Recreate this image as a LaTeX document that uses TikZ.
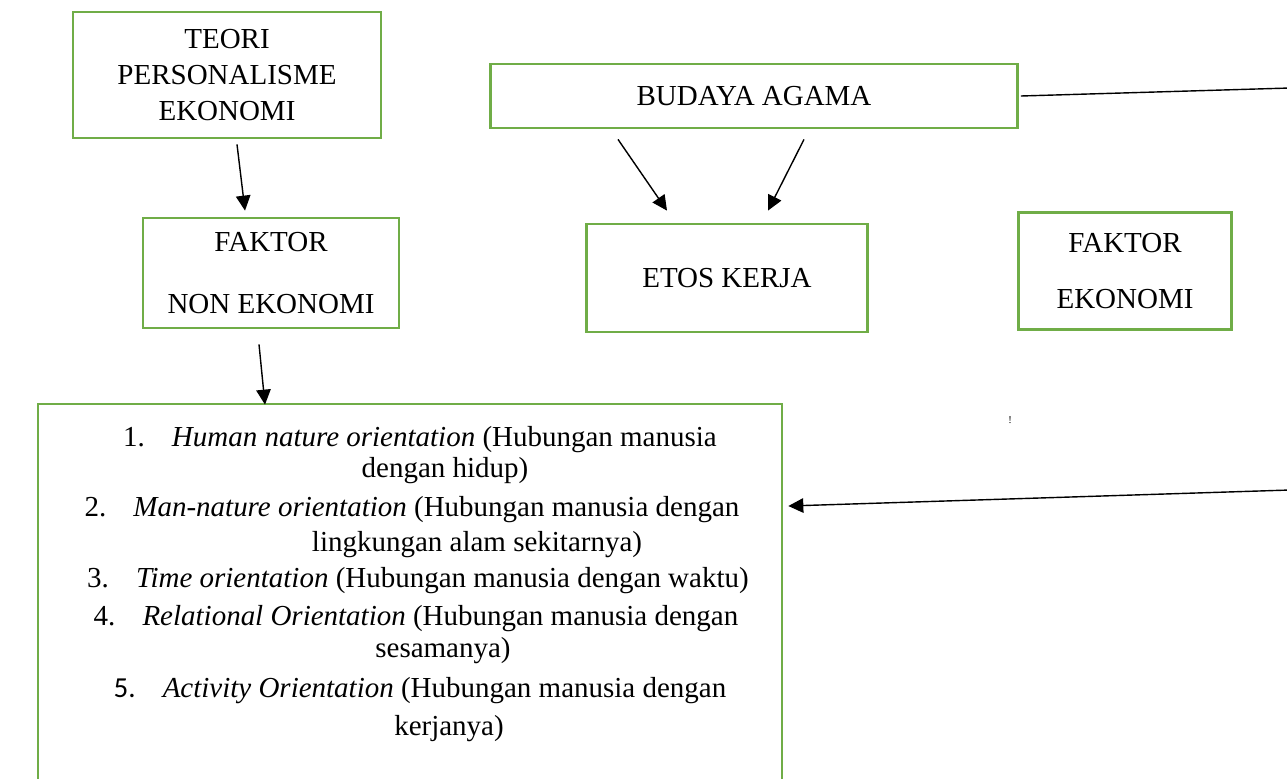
\documentclass[tikz,border=0pt]{standalone}
\usepackage{fontspec}
\setmainfont{Liberation Serif}
\newfontfamily\calibrifont{Carlito}
\usetikzlibrary{arrows.meta}
\definecolor{boxgreen}{HTML}{70AD47}

\begin{document}
\begin{tikzpicture}[x=0.02cm,y=-0.02cm,
    every node/.style={font=\fontsize{16.5}{20}\selectfont},
    box/.style={draw=boxgreen, line width=1.6pt, align=center, inner sep=0pt},
    arr/.style={-{Triangle[length=0.3cm,width=0.29cm]}, line width=0.8pt}]
    \useasboundingbox (0,0) rectangle (1287,778);
    \clip (0,0) rectangle (1287,778);

    % Boxes
    \node[box, minimum width=6.16cm, minimum height=2.52cm, font=\fontsize{16.5}{20.5}\selectfont] (teori) at (227,75) {TEORI\\PERSONALISME\\EKONOMI};
    \node[box, minimum width=10.54cm, minimum height=1.28cm] (budaya) at (754,96) {BUDAYA AGAMA};
    \node[box, minimum width=5.12cm, minimum height=2.2cm] (nonekon) at (271,273) {FAKTOR\\[15pt]NON EKONOMI};
    \node[box, minimum width=5.62cm, minimum height=2.16cm] (etos) at (727,278) {ETOS KERJA};
    \node[box, minimum width=4.26cm, minimum height=2.34cm] (ekon) at (1125,271) {FAKTOR\\[12pt]EKONOMI};
    \node[box, minimum width=14.88cm, minimum height=8cm] (orient) at (410,604) {};

    % Orientation list
    \foreach \n/\x/\y/\t in {
        1/420/446/{1.\hspace{0.6em} \textit{Human nature orientation} (Hubungan manusia},
        2/445/477/{dengan hidup)},
        3/412/516/{2.\hspace{0.6em} \textit{Man-nature orientation} (Hubungan manusia dengan},
        4/477/551/{lingkungan alam sekitarnya)},
        5/418/587/{3.\hspace{0.6em} \textit{Time orientation} (Hubungan manusia dengan waktu)},
        6/416/625/{4.\hspace{0.6em} \textit{Relational Orientation} (Hubungan manusia dengan},
        7/443/657/{sesamanya)},
        8/420/697/{{\calibrifont 5.}\hspace{0.6em} \textit{Activity Orientation} (Hubungan manusia dengan},
        9/449/735/{kerjanya)}}
        \node[anchor=base] (line\n) at (\x,\y) {\t};

    \node[font=\fontsize{6}{6}\selectfont] (mark) at (1010,420) {!};

    % Edges leaving the page
    \coordinate (top) at (1290,88);
    \coordinate (bottom) at (1290,490);

    % Connectors
    \draw[arr] ([shift={(10,5)}]teori.south) -- ([shift={(-26,-6)}]nonekon.north);
    \draw[arr] ([shift={(-136,10)}]budaya.south) -- ([shift={(-60,-12)}]etos.north);
    \draw[arr] ([shift={(50,10)}]budaya.south) -- ([shift={(41,-12)}]etos.north);
    \draw[arr] ([shift={(-12,15)}]nonekon.south) -- ([shift={(-145,2)}]orient.north);
    \draw[line width=0.8pt] ([xshift=0.04cm]budaya.east) -- (top);
    \draw[arr] (bottom) -- ([shift={(5,-98)}]orient.east);
\end{tikzpicture}
\end{document}
